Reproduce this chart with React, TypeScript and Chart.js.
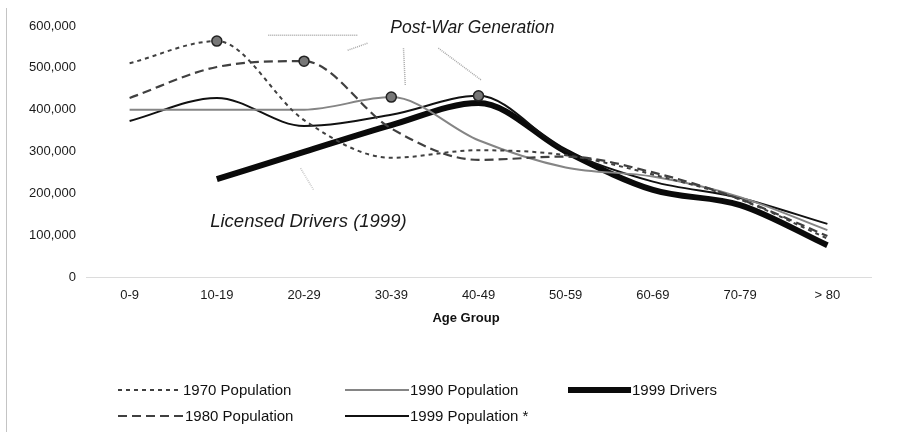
import React, { useEffect, useRef } from 'react';
import { Chart, registerables } from 'chart.js';

Chart.register(...registerables);

const categories = ['0-9', '10-19', '20-29', '30-39', '40-49', '50-59', '60-69', '70-79', '> 80'];
const pop1970 = [511000, 564000, 375000, 285000, 303000, 291000, 245000, 185000, 92000];
const pop1980 = [428000, 502000, 516000, 355000, 280000, 288000, 250000, 186000, 98000];
const pop1990 = [400000, 400000, 400000, 430000, 327000, 262000, 240000, 191000, 112000];
const pop1999 = [373000, 428000, 361000, 388000, 433000, 302000, 228000, 189000, 127000];
const drivers1999 = [null, 234000, 299000, 363000, 416000, 300000, 208000, 172000, 76000];
const yTicks = [0, 100000, 200000, 300000, 400000, 500000, 600000];
const peakIndex1970 = 1;
const peakIndex1980 = 2;
const peakIndex1990 = 3;
const peakIndex1999 = 4;

const FONT = '"Liberation Sans", Arial, sans-serif';

const radii = (peak: number) => categories.map((_, i) => (i === peak ? 5 : 0));

const decorPlugin = {
  id: 'decor',
  afterDraw(chart: any) {
    const ctx = chart.ctx;
    const xs = chart.scales.x;
    const ys = chart.scales.y;
    const ca = chart.chartArea;
    ctx.save();

    // left frame line
    ctx.strokeStyle = '#c4c4c4';
    ctx.lineWidth = 1;
    ctx.beginPath();
    ctx.moveTo(6.5, 8);
    ctx.lineTo(6.5, 432);
    ctx.stroke();

    // leader lines (faint, hatched)
    const seg = (x1: number, v1: number, x2: number, v2: number) => {
      ctx.beginPath();
      ctx.moveTo(xs.getPixelForValue(x1), ys.getPixelForValue(v1));
      ctx.lineTo(xs.getPixelForValue(x2), ys.getPixelForValue(v2));
      ctx.stroke();
    };
    ctx.strokeStyle = '#a8a8a8';
    ctx.lineWidth = 1.5;
    ctx.setLineDash([1, 1]);
    seg(1.59, 578000, 2.62, 578000);
    seg(2.5, 542000, 2.73, 559000);
    seg(3.14, 547000, 3.16, 459000);
    seg(3.54, 547000, 4.03, 471000);
    ctx.strokeStyle = '#c8c8c8';
    seg(1.96, 260000, 2.11, 208000);
    ctx.setLineDash([]);

    // annotations
    ctx.fillStyle = '#1a1a1a';
    ctx.textAlign = 'center';
    ctx.textBaseline = 'middle';
    ctx.font = `italic 17.5px ${FONT}`;
    ctx.fillText('Post-War Generation', xs.getPixelForValue(3.93), ys.getPixelForValue(595000));
    ctx.font = `italic 18.5px ${FONT}`;
    ctx.fillText('Licensed Drivers (1999)', xs.getPixelForValue(2.05), ys.getPixelForValue(131000));

    // axis title
    ctx.font = `bold 13px ${FONT}`;
    ctx.fillStyle = '#111';
    ctx.fillText('Age Group', 466, ca.bottom + 41);

    // legend
    const ds = chart.data.datasets;
    const items = [
      { d: 0, sx: 118, tx: 183, y: 390 },
      { d: 2, sx: 345, tx: 410, y: 390 },
      { d: 4, sx: 568, tx: 632, y: 390 },
      { d: 1, sx: 118, tx: 185, y: 416 },
      { d: 3, sx: 345, tx: 410, y: 416 },
    ];
    ctx.textAlign = 'left';
    ctx.font = `15px ${FONT}`;
    for (const it of items) {
      const d = ds[it.d];
      ctx.strokeStyle = d.borderColor;
      ctx.lineWidth = d.borderWidth;
      ctx.setLineDash(d.borderDash || []);
      ctx.beginPath();
      ctx.moveTo(it.sx, it.y);
      ctx.lineTo(it.tx - 1, it.y);
      ctx.stroke();
      ctx.setLineDash([]);
      ctx.fillStyle = '#111';
      ctx.fillText(d.label, it.tx, it.y + 1);
    }
    ctx.restore();
  },
};

const common = {
  tension: 0.4,
  cubicInterpolationMode: 'monotone',
  pointBackgroundColor: '#777',
  pointBorderColor: '#222',
  pointBorderWidth: 1.5,
};

export default function App() {
  const ref = useRef<HTMLCanvasElement>(null);
  useEffect(() => {
    const chart = new Chart(ref.current as HTMLCanvasElement, {
      type: 'line',
      data: {
        labels: categories,
        datasets: [
          {
            ...common,
            label: '1970 Population',
            data: pop1970,
            borderColor: '#404040',
            borderWidth: 2,
            borderDash: [4, 4],
            pointRadius: radii(peakIndex1970),
          },
          {
            ...common,
            label: '1980 Population',
            data: pop1980,
            borderColor: '#404040',
            borderWidth: 2.2,
            borderDash: [9, 5],
            pointRadius: radii(peakIndex1980),
          },
          {
            ...common,
            label: '1990 Population',
            data: pop1990,
            borderColor: '#858585',
            borderWidth: 2,
            pointRadius: radii(peakIndex1990),
          },
          {
            ...common,
            label: '1999 Population *',
            data: pop1999,
            borderColor: '#111',
            borderWidth: 2,
            pointRadius: radii(peakIndex1999),
          },
          {
            ...common,
            label: '1999 Drivers',
            data: drivers1999,
            borderColor: '#0a0a0a',
            borderWidth: 6,
            pointRadius: 0,
          },
        ],
      },
      options: {
        animation: false,
        responsive: true,
        maintainAspectRatio: false,
        layout: { padding: { top: 26, right: 28, left: 0, bottom: 0 } },
        plugins: { legend: { display: false }, tooltip: { enabled: false } },
        scales: {
          x: {
            type: 'category',
            offset: true,
            grid: { display: false, drawTicks: false },
            border: { display: true, color: '#dcdcdc', dash: [3, 4], width: 1 },
            ticks: {
              font: { family: FONT, size: 13 },
              color: '#1a1a1a',
              padding: 11,
              maxRotation: 0,
              autoSkip: false,
            },
            afterFit: (s: any) => {
              s.height = 155;
            },
          },
          y: {
            min: 0,
            max: 600000,
            afterBuildTicks: (s: any) => {
              s.ticks = yTicks.map((v) => ({ value: v }));
            },
            grid: { display: false, drawTicks: false },
            border: { display: false },
            ticks: {
              font: { family: FONT, size: 13 },
              color: '#1a1a1a',
              padding: 10,
              callback: (v: any) => Number(v).toLocaleString('en-US'),
            },
            afterFit: (s: any) => {
              s.width = 86;
            },
          },
        },
      },
      plugins: [decorPlugin],
    } as any);
    return () => chart.destroy();
  }, []);
  return (
    <div style={{ position: 'fixed', left: 0, top: 0, width: 899, height: 432, background: '#fff' }}>
      <canvas ref={ref} />
    </div>
  );
}
